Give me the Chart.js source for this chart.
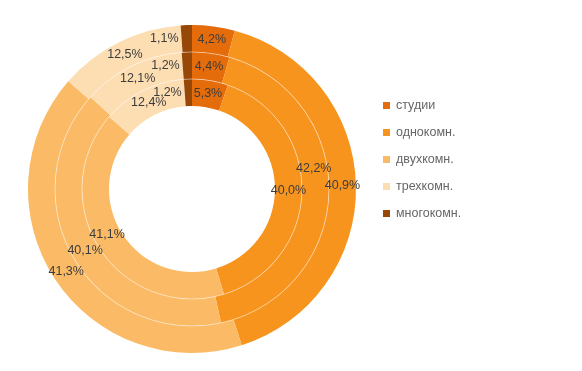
<!DOCTYPE html>
<html>
<head>
<meta charset="utf-8">
<script src="https://cdn.jsdelivr.net/npm/chart.js@4.4.1/dist/chart.umd.min.js"></script>
<style>
  html, body { margin: 0; padding: 0; background: #fff; }
  #wrap { position: relative; width: 582px; height: 371px; }
  #legend { position: absolute; left: 383px; top: 92px; font-family: "Liberation Sans", "DejaVu Sans", sans-serif; font-size: 12.5px; color: #666666; }
  #legend div { height: 27px; line-height: 27px; white-space: nowrap; }
  #legend span.box { display: inline-block; width: 7px; height: 7px; margin-right: 6px; vertical-align: 0px; }
</style>
</head>
<body>
<div id="wrap">
  <canvas id="c" width="582" height="371"></canvas>
  <div id="legend"></div>
</div>
<script>
const categories = ["студии", "однокомн.", "двухкомн.", "трехкомн.", "многокомн."];
const outerRing = [4.2, 40.9, 41.3, 12.5, 1.1];
const middleRing = [4.4, 42.2, 40.1, 12.1, 1.2];
const innerRing = [5.3, 40.0, 41.1, 12.4, 1.2];
const colors = ["#E46C0A", "#F7941E", "#FBBB66", "#FDDDB2", "#974806"];

const ringPlugin = {
  id: 'ringSeparators',
  afterDatasetsDraw(chart) {
    const ctx = chart.ctx;
    ctx.save();
    ctx.strokeStyle = 'rgba(255,255,255,0.45)';
    ctx.lineWidth = 1;
    chart.data.datasets.forEach((ds, di) => {
      if (di === chart.data.datasets.length - 1) return;
      const arc = chart.getDatasetMeta(di).data[0];
      ctx.beginPath();
      ctx.arc(arc.x, arc.y, arc.innerRadius, 0, Math.PI * 2);
      ctx.stroke();
    });
    ctx.restore();
  }
};

const labelPlugin = {
  id: 'arcLabels',
  afterDatasetsDraw(chart) {
    const ctx = chart.ctx;
    ctx.save();
    ctx.font = '12.5px "Liberation Sans", "DejaVu Sans", sans-serif';
    ctx.fillStyle = '#3c3c3c';
    ctx.textBaseline = 'middle';
    const placed = [];
    const H = 15;
    const boxOf = (x, y, w) => ({ x1: x - w / 2 - 2, x2: x + w / 2 + 2, y1: y - H / 2, y2: y + H / 2 });
    const overlaps = (b) => placed.some(p => b.x1 < p.x2 && b.x2 > p.x1 && b.y1 < p.y2 && b.y2 > p.y1);
    chart.data.datasets.forEach((ds, di) => {
      const meta = chart.getDatasetMeta(di);
      meta.data.forEach((arc, i) => {
        const txt = ds.data[i].toFixed(1).replace('.', ',') + '%';
        const w = ctx.measureText(txt).width;
        const rMid = (arc.innerRadius + arc.outerRadius) / 2;
        const span = (arc.endAngle - arc.startAngle) * rMid;
        let cx, cy;
        if (span < w * 0.5) {
          const a = arc.startAngle;
          cx = arc.x + Math.cos(a) * rMid - 3 - w / 2;
          cy = arc.y + Math.sin(a) * rMid;
        } else {
          const mid = (arc.startAngle + arc.endAngle) / 2;
          const half = (arc.endAngle - arc.startAngle) / 2;
          const step = 0.02;
          const pt = (a) => [arc.x + Math.cos(a) * rMid, arc.y + Math.sin(a) * rMid];
          // prefer moving upward first, then downward
          const upSign = pt(mid - step)[1] < pt(mid + step)[1] ? -1 : 1;
          let chosen = null;
          for (const sign of [upSign, -upSign]) {
            for (let k = 0; k * step < half * 0.8; k++) {
              const [x, y] = pt(mid + sign * k * step);
              if (!overlaps(boxOf(x, y, w))) { chosen = [x, y]; break; }
            }
            if (chosen) break;
          }
          if (!chosen) chosen = pt(mid);
          [cx, cy] = chosen;
        }
        placed.push(boxOf(cx, cy, w));
        ctx.textAlign = 'center';
        ctx.fillText(txt, cx, cy);
      });
    });
    ctx.restore();
  }
};

const mk = (data) => ({
  data: data,
  backgroundColor: colors,
  borderWidth: 0,
  hoverOffset: 0
});

const chart = new Chart(document.getElementById('c'), {
  type: 'doughnut',
  data: {
    labels: categories,
    datasets: [mk(outerRing), mk(middleRing), mk(innerRing)]
  },
  options: {
    responsive: false,
    animation: false,
    cutout: '50.6%',
    layout: { padding: { top: 25, bottom: 18, left: 28, right: 226 } },
    plugins: { legend: { display: false }, tooltip: { enabled: false } }
  },
  plugins: [ringPlugin, labelPlugin]
});

const lg = document.getElementById('legend');
categories.forEach((c, i) => {
  const d = document.createElement('div');
  const b = document.createElement('span');
  b.className = 'box';
  b.style.background = colors[i];
  d.appendChild(b);
  d.appendChild(document.createTextNode(c));
  lg.appendChild(d);
});
</script>
</body>
</html>
